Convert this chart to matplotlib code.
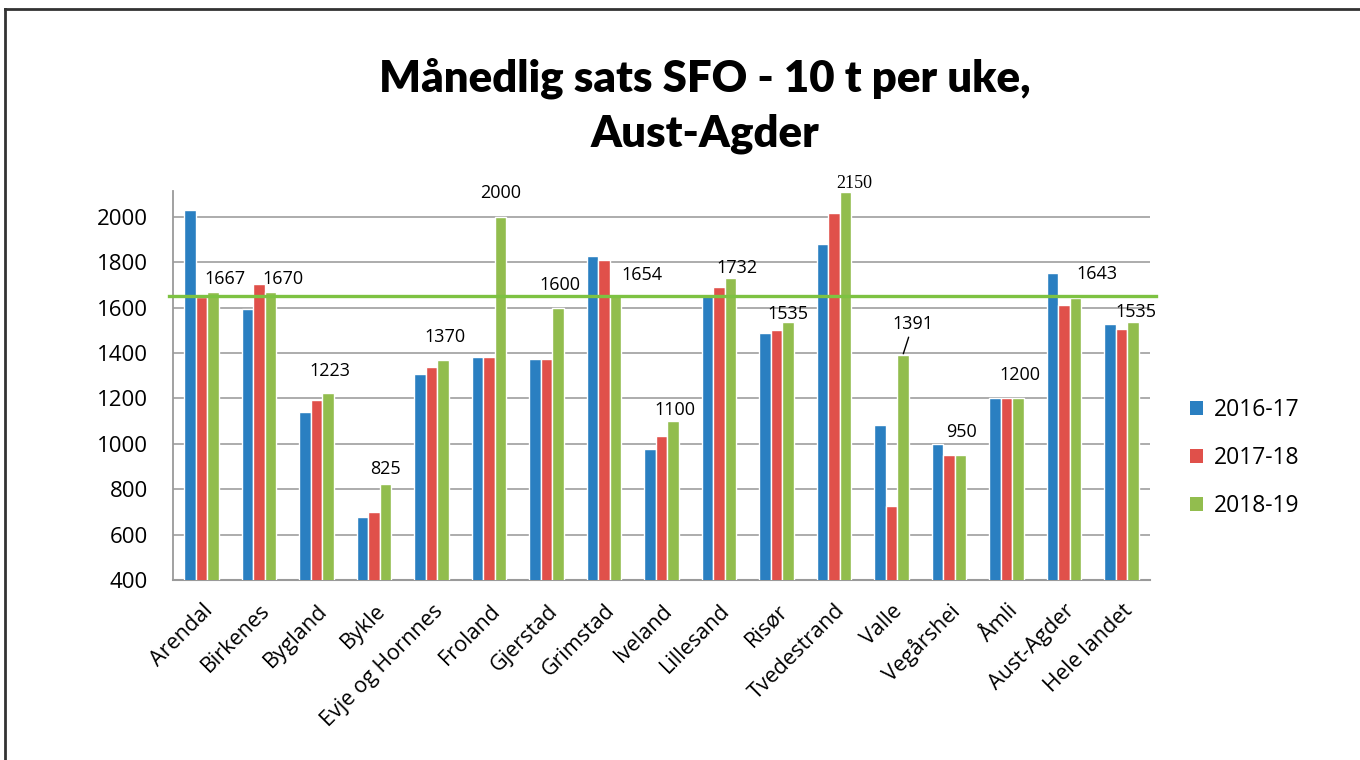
import numpy as np
import matplotlib
matplotlib.use('Agg')
import matplotlib.pyplot as plt
import matplotlib.transforms as mtransforms
from matplotlib.patches import Patch
from matplotlib.lines import Line2D

# data
kommuner = ['Arendal', 'Birkenes', 'Bygland', 'Bykle', 'Evje og Hornnes', 'Froland',
            'Gjerstad', 'Grimstad', 'Iveland', 'Lillesand', 'Risør', 'Tvedestrand',
            'Valle', 'Vegårshei', 'Åmli', 'Aust-Agder', 'Hele landet']
sats_2016 = [2030, 1593, 1139, 678, 1306, 1383, 1375, 1829, 979, 1650, 1487, 1879,
             1083, 999, 1200, 1752, 1528]
sats_2017 = [1649, 1703, 1195, 700, 1340, 1383, 1375, 1809, 1035, 1690, 1502, 2019,
             727, 950, 1200, 1613, 1508]
sats_2018 = [1667, 1670, 1223, 825, 1370, 2000, 1600, 1654, 1100, 1732, 1535, 2110,
             1391, 950, 1200, 1643, 1535]
etiketter = ['1667', '1670', '1223', '825', '1370', '2000', '1600', '1654', '1100',
             '1732', '1535', '2150', '1391', '950', '1200', '1643', '1535']
serier = ['2016-17', '2017-18', '2018-19']
snitt_linje = 1650

farger = ['#2a7fc1', '#e0504a', '#92bd4e']
linjefarge = '#7dc242'

plt.rcParams['font.family'] = ['Open Sans', 'DejaVu Sans']

fig = plt.figure(figsize=(13.6, 7.6), dpi=100)
ax = fig.add_axes([173 / 1360, 1 - 580 / 760, 977 / 1360, 389 / 760])

x = np.arange(len(kommuner))
w = 0.2
for i, (vals, c, navn) in enumerate(zip([sats_2016, sats_2017, sats_2018], farger, serier)):
    ax.bar(x + (i - 1) * w, vals, width=w, color=c, edgecolor='white', linewidth=1.0,
           label=navn, zorder=3)

ax.set_xlim(-0.5, len(kommuner) - 0.5)
ax.set_ylim(400, 2114)
ax.set_yticks(np.arange(400, 2001, 200))
ax.yaxis.grid(True, color='#a6a6a6', linewidth=1.3, zorder=0)
ax.set_axisbelow(True)
for s in ['top', 'right']:
    ax.spines[s].set_visible(False)
ax.spines['left'].set_color('#9a9a9a')
ax.spines['bottom'].set_color('#9a9a9a')
ax.spines['left'].set_linewidth(1.3)
ax.spines['bottom'].set_linewidth(1.5)
ax.tick_params(axis='y', length=0, pad=18, labelsize=16)
ax.tick_params(axis='x', length=0, pad=20, labelsize=15.5)

ax.set_xticks(x)
ax.set_xticklabels(kommuner, rotation=45, ha='right', va='center', rotation_mode='anchor')
forskyv = mtransforms.ScaledTranslation(8 / 100, 0, fig.dpi_scale_trans)
for lbl in ax.get_xticklabels():
    lbl.set_transform(lbl.get_transform() + forskyv)

# gjennomsnittslinje
ax.axhline(snitt_linje, xmin=-0.004, xmax=1.006, color=linjefarge, linewidth=2.4,
           zorder=4, clip_on=False)

# verdietiketter (manuelt plassert i originalen)
plassering = [(12, 13.5), (12.5, 13), (1.5, 22), (0, 15), (2, 23), (0, 24), (2, 23),
              (26.5, 20.5), (2, 11), (7, 9.5), (0, 8.5), (9, 8), (10, 31), (1.5, 23),
              (2.5, 23), (21.5, 23.6), (3, 10)]
for i, (v, txt) in enumerate(zip(sats_2018, etiketter)):
    dx, dy = plassering[i]
    fam = ['Liberation Serif'] if txt == '2150' else ['Open Sans', 'DejaVu Sans']
    pil = dict(arrowstyle='-', color='black', lw=1, shrinkA=1, shrinkB=1) if txt == '1391' else None
    ax.annotate(txt, xy=(x[i] + w, v), xytext=(dx, dy), textcoords='offset pixels',
                ha='center', va='center', fontsize=13, family=fam, zorder=6,
                arrowprops=pil, annotation_clip=False)

handles = [Patch(facecolor=c, edgecolor='none') for c in farger]
fig.legend(handles, serier, loc='center left', bbox_to_anchor=(1190 / 1360, 1 - 458 / 760),
           frameon=False, fontsize=16.5, handlelength=0.55, handleheight=0.55,
           handletextpad=0.5, labelspacing=1.05, borderpad=0, borderaxespad=0)

fig.text(705 / 1360, 1 - 106 / 760, 'Månedlig sats SFO - 10 t per uke,\nAust-Agder',
         ha='center', va='center', fontsize=31.5, fontweight='heavy', family=['Lato', 'DejaVu Sans'],
         linespacing=1.45)

# ramme oppe og til venstre som i skjermbildet
fig.add_artist(Line2D([4.5 / 1360, 1], [1 - 9 / 760, 1 - 9 / 760], color='#333333', lw=2))
fig.add_artist(Line2D([4.5 / 1360, 4.5 / 1360], [0, 1 - 9 / 760], color='#333333', lw=2))

fig.savefig('out.png', dpi=100, facecolor='white')
